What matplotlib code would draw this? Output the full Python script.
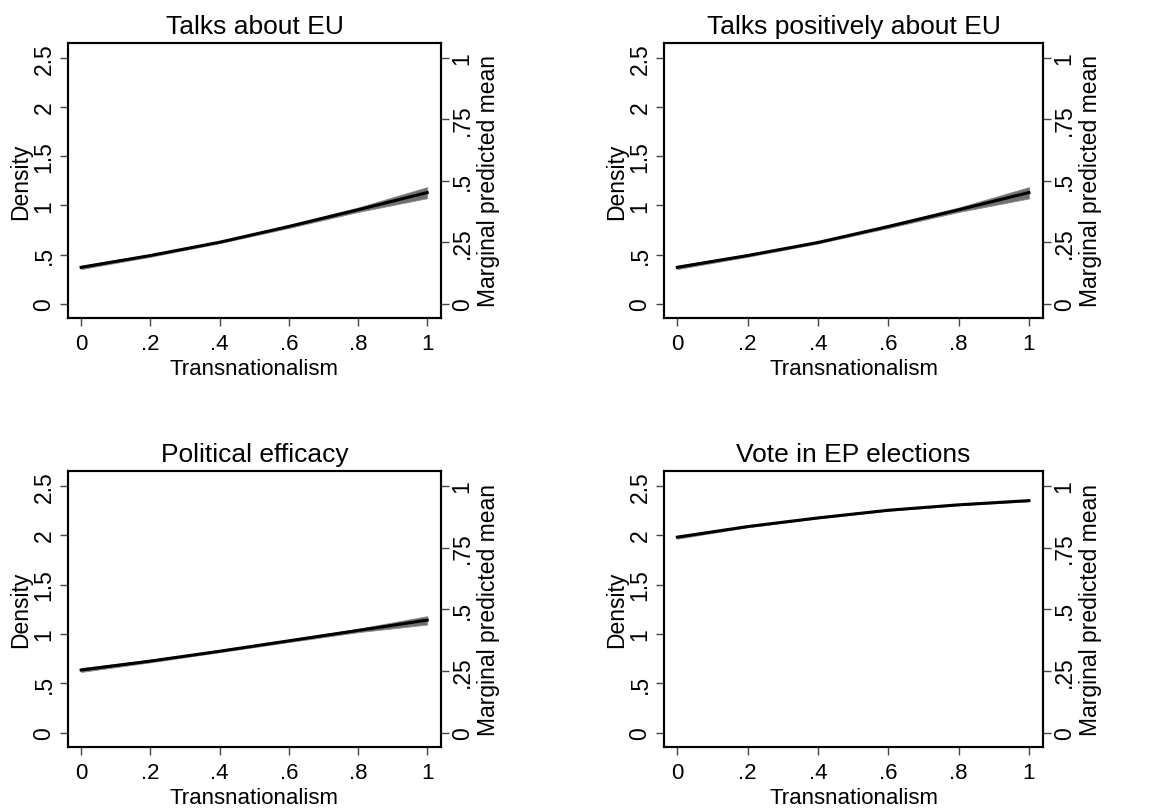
import matplotlib

matplotlib.use("Agg")
import matplotlib.pyplot as plt

plt.rcParams["font.family"] = ["Liberation Sans", "DejaVu Sans"]

x = [0.0, 0.2, 0.4, 0.6, 0.8, 1.0]

titles = ["Talks about EU", "Talks positively about EU", "Political efficacy", "Vote in EP elections"]

# marginal predicted means with 95% CI (right axis scale)
talks_mean = [0.148, 0.196, 0.250, 0.314, 0.382, 0.452]
talks_lo = [0.141, 0.191, 0.246, 0.308, 0.373, 0.429]
talks_hi = [0.155, 0.201, 0.254, 0.320, 0.391, 0.474]

positive_mean = [0.148, 0.196, 0.249, 0.314, 0.382, 0.452]
positive_lo = [0.141, 0.191, 0.245, 0.308, 0.373, 0.428]
positive_hi = [0.155, 0.201, 0.253, 0.320, 0.391, 0.474]

efficacy_mean = [0.254, 0.290, 0.330, 0.372, 0.414, 0.456]
efficacy_lo = [0.246, 0.285, 0.326, 0.367, 0.407, 0.438]
efficacy_hi = [0.262, 0.295, 0.334, 0.377, 0.421, 0.472]

vote_mean = [0.792, 0.835, 0.870, 0.901, 0.923, 0.940]
vote_lo = [0.786, 0.832, 0.868, 0.899, 0.921, 0.937]
vote_hi = [0.798, 0.838, 0.872, 0.903, 0.925, 0.943]

series = [
    (talks_mean, talks_lo, talks_hi),
    (positive_mean, positive_lo, positive_hi),
    (efficacy_mean, efficacy_lo, efficacy_hi),
    (vote_mean, vote_lo, vote_hi),
]

density_ticks = [0, 0.5, 1, 1.5, 2, 2.5]
density_labels = ["0", ".5", "1", "1.5", "2", "2.5"]
mean_ticks = [0, 0.25, 0.5, 0.75, 1]
mean_labels = ["0", ".25", ".5", ".75", "1"]
x_ticks = [0, 0.2, 0.4, 0.6, 0.8, 1]
x_labels = ["0", ".2", ".4", ".6", ".8", "1"]

W, H = 1150, 812
fig = plt.figure(figsize=(W / 100, H / 100), dpi=100)

# panel frames in pixels: left, right, top, bottom
frames = [
    (68, 441, 44, 319),
    (664, 1043, 44, 319),
    (68, 441, 472, 748),
    (664, 1043, 472, 748),
]

for (l, r, t, b), title, (mean, lo, hi) in zip(frames, titles, series):
    rect = [l / W, 1 - b / H, (r - l) / W, (b - t) / H]
    ax = fig.add_axes(rect)
    ax.set_xlim(-0.038, 1.04)
    ax.set_ylim(-0.145, 2.65)
    ax.set_yticks(density_ticks)
    ax.set_yticklabels(density_labels, rotation=90, va="center")
    ax.set_xticks(x_ticks)
    ax.set_xticklabels(x_labels)
    ax.set_ylabel("Density", fontsize=16.5, labelpad=0)
    ax.set_xlabel("Transnationalism", fontsize=16, labelpad=3)
    ax.set_title(title, fontsize=19, pad=7)
    ax.tick_params(axis="x", labelsize=16, length=6, width=1, color="#444444", pad=5)
    ax.tick_params(axis="y", labelsize=16.5, length=6, width=1, color="#444444", pad=3)
    for sp in ax.spines.values():
        sp.set_linewidth(1.5)

    ax2 = ax.twinx()
    ax2.set_ylim(-0.145 / 2.5, 2.65 / 2.5)
    ax2.set_yticks(mean_ticks)
    ax2.set_yticklabels(mean_labels, rotation=90, va="center")
    ax2.tick_params(axis="y", labelsize=16.5, length=6, width=1, color="#444444", pad=1)
    ax2.set_ylabel("Marginal predicted mean", fontsize=16.5, labelpad=2)
    for sp in ax2.spines.values():
        sp.set_linewidth(1.5)
    ax2.fill_between(x, lo, hi, color="#707070", linewidth=0.6, edgecolor="#8a8a8a")
    ax2.plot(x, mean, color="black", linewidth=2.2)

fig.savefig("out.png", dpi=100)
